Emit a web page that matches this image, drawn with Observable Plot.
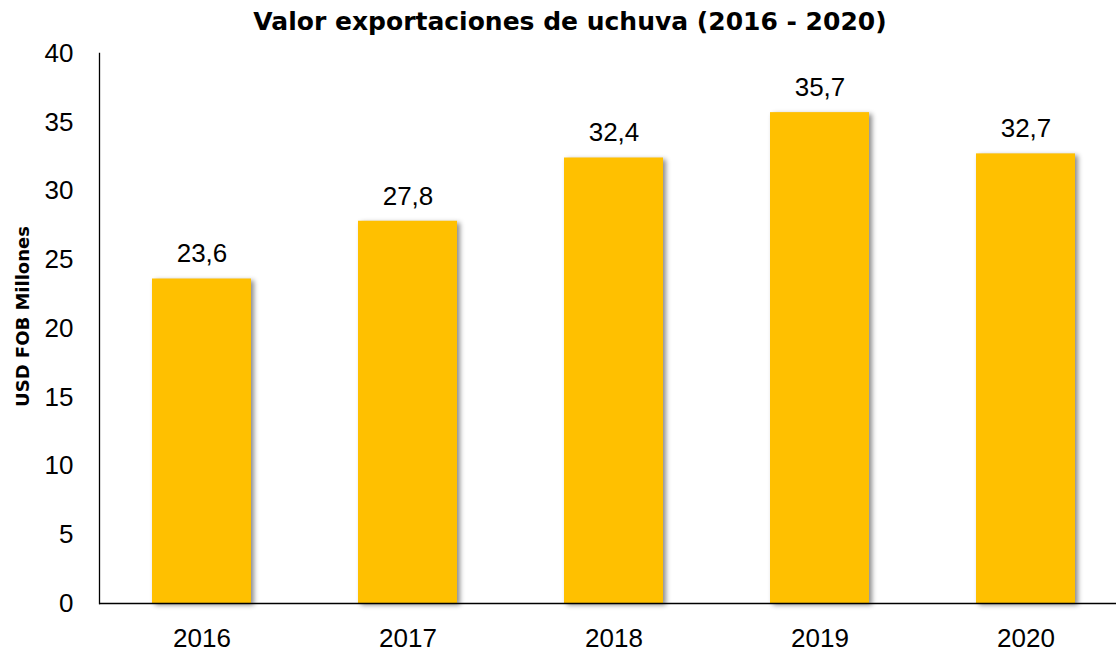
<!DOCTYPE html>
<html>
<head>
<meta charset="utf-8">
<script src="https://cdn.jsdelivr.net/npm/d3@7"></script>
<script src="https://cdn.jsdelivr.net/npm/@observablehq/plot@0.6"></script>
<style>
  html, body { margin: 0; padding: 0; background: #fff; }
  #title {
    width: 1116px; height: 24px; padding-top: 6px; margin: 0;
    font-family: "DejaVu Sans", sans-serif; font-weight: bold; font-size: 25px;
    line-height: 32px; text-align: center; color: #000; text-indent: 24px;
    white-space: nowrap; overflow: visible;
  }
  #chart svg { display: block; }
  #chart svg g[aria-label="bar"] rect { filter: drop-shadow(3px 2px 2.5px rgba(0,0,0,0.45)); }
</style>
</head>
<body>
<div id="title">Valor exportaciones de uchuva (2016 - 2020)</div>
<div id="chart"></div>
<script>
const years = ["2016", "2017", "2018", "2019", "2020"];
const values = [23.6, 27.8, 32.4, 35.7, 32.7];
const valueLabels = ["23,6", "27,8", "32,4", "35,7", "32,7"];
const yTicks = [0, 5, 10, 15, 20, 25, 30, 35, 40];
const yLabel = "USD FOB Millones";

const data = years.map((y, i) => ({year: y, value: values[i], label: valueLabels[i]}));

const chart = Plot.plot({
  width: 1116,
  height: 622,
  marginTop: 23,
  marginBottom: 49,
  marginLeft: 99,
  marginRight: 0,
  style: {fontFamily: "'Liberation Sans', Arial, sans-serif", fontSize: "26px", color: "#000", background: "#fff", overflow: "visible"},
  x: {type: "band", domain: years, range: [98, 1128], paddingInner: 0.52, paddingOuter: 0.26},
  y: {domain: [0, 40]},
  marks: [
    Plot.barY(data, {x: "year", y: "value", fill: "#FFC000"}),
    Plot.ruleY([0], {stroke: "#000", strokeWidth: 1.3}),
    Plot.frame({anchor: "left", stroke: "#000", strokeWidth: 1.3}),
    Plot.axisY(yTicks, {tickSize: 0, tickPadding: 26, label: null, fontSize: 26}),
    Plot.axisX({tickSize: 0, tickPadding: 25, label: null, fontSize: 26}),
    Plot.text(data, {x: "year", y: "value", text: "label", dy: -25, lineAnchor: "middle", fontSize: 26, fill: "#000"}),
    Plot.text([yLabel], {text: d => d, frameAnchor: "left", textAnchor: "middle", lineAnchor: "middle", dx: -76, dy: -12, rotate: -90, fontSize: 18, fontWeight: "bold", fontFamily: "'DejaVu Sans', sans-serif", fill: "#000"})
  ]
});
document.getElementById("chart").appendChild(chart);
</script>
</body>
</html>
